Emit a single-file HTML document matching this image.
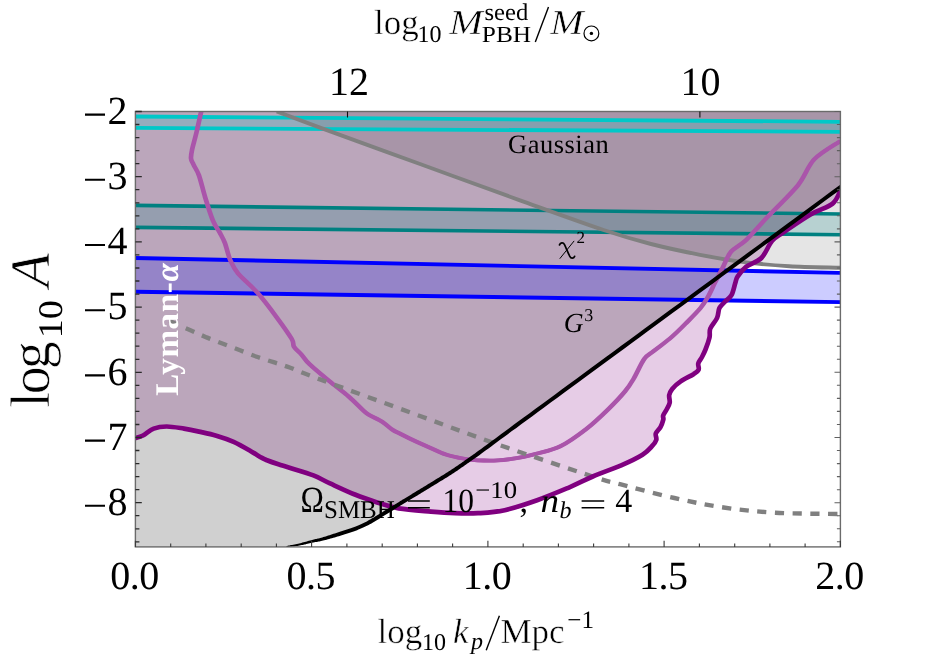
<!DOCTYPE html>
<html><head><meta charset="utf-8"><title>plot</title>
<style>html,body{margin:0;padding:0;background:#fff;}svg{display:block;will-change:transform;}text{text-rendering:geometricPrecision;}</style>
</head><body>
<svg width="927" height="659" viewBox="0 0 927 659">
<defs><clipPath id="c"><rect x="135.4" y="111.5" width="705.0" height="435.4"/></clipPath></defs>
<rect width="927" height="659" fill="#fff"/>
<g clip-path="url(#c)">
<path d="M135.4,438.1 C136.7,437.7 139.9,437.1 143.0,435.5 C146.1,433.9 149.8,430.1 153.7,428.6 C157.6,427.1 161.6,426.5 166.7,426.5 C171.8,426.5 178.6,427.8 184.0,428.6 C189.4,429.5 193.6,430.4 199.0,431.6 C204.4,432.8 210.5,434.0 216.3,435.7 C222.1,437.4 227.8,439.3 233.6,441.9 C239.3,444.5 246.1,448.5 250.8,451.2 C255.5,453.9 259.3,456.4 262.0,457.9 C264.7,459.4 264.3,459.2 267.0,460.3 C269.7,461.4 274.3,463.0 278.4,464.3 C282.5,465.6 286.0,466.5 291.8,468.4 C297.6,470.2 307.0,472.9 313.4,475.4 C319.8,477.9 323.0,480.2 330.0,483.4 C337.0,486.6 347.6,491.6 355.5,494.8 C363.4,498.0 369.9,500.1 377.1,502.4 C384.3,504.7 389.7,506.9 398.7,508.4 C407.7,509.9 421.6,510.8 431.0,511.6 C440.4,512.4 447.2,512.9 455.0,513.2 C462.8,513.5 469.7,513.7 478.0,513.2 C486.3,512.7 494.8,512.4 504.7,510.2 C514.5,508.0 526.3,504.0 537.1,500.2 C547.9,496.4 560.1,491.2 569.4,487.3 C578.7,483.4 584.2,480.2 592.8,476.5 C601.4,472.8 612.9,468.9 621.2,465.3 C629.5,461.7 637.4,457.9 642.5,454.7 C647.6,451.5 649.7,448.7 652.0,446.2 C654.3,443.7 655.7,441.9 656.3,439.8 C656.9,437.7 655.1,435.6 655.8,433.5 C656.5,431.4 659.2,429.4 660.5,427.1 C661.8,424.8 662.8,421.6 663.3,419.7 C663.8,417.8 662.6,417.2 663.2,415.4 C663.8,413.6 665.8,411.1 666.9,409.0 C668.0,406.9 669.3,405.0 669.7,402.7 C670.1,400.4 668.8,397.5 669.2,395.2 C669.6,392.9 670.3,391.2 672.2,388.9 C674.1,386.6 677.2,383.8 680.7,381.4 C684.2,378.9 690.5,376.1 693.5,374.2 C696.5,372.2 697.8,371.5 698.6,369.7 C699.4,367.9 697.7,365.5 698.3,363.4 C698.9,361.3 700.8,359.3 702.0,357.0 C703.2,354.7 704.2,352.7 705.5,349.5 C706.8,346.3 708.7,341.1 709.5,337.6 C710.3,334.1 709.0,331.8 710.3,328.5 C711.6,325.2 715.6,321.3 717.1,317.9 C718.6,314.5 718.1,310.8 719.4,308.1 C720.7,305.5 722.7,304.1 724.7,302.0 C726.7,299.9 729.7,298.4 731.5,295.2 C733.3,292.0 734.3,286.1 735.3,283.0 C736.3,279.9 735.9,279.1 737.7,276.4 C739.5,273.7 742.3,269.8 746.3,266.7 C750.2,263.6 757.1,262.3 761.4,258.0 C765.7,253.7 768.4,245.1 772.2,240.8 C776.0,236.5 777.5,236.4 784.0,232.0 C790.5,227.6 802.9,219.0 811.0,214.3 C819.1,209.6 827.7,207.6 832.6,203.6 C837.5,199.6 839.1,192.8 840.4,190.6 L840.4,111.5 L135.4,111.5 Z" fill="rgba(128,0,128,0.2)"/>
<path d="M286.5,546.6 C288.6,546.2 295.1,545.4 299.4,544.5 C303.7,543.6 308.5,542.2 312.4,541.3 C316.3,540.4 318.4,540.2 322.7,539.0 C327.0,537.8 332.7,536.1 338.3,534.3 C343.9,532.5 351.1,530.4 356.4,528.3 C361.7,526.2 365.2,524.5 370.0,521.9 C374.8,519.3 380.0,515.8 385.0,512.8 C390.0,509.7 395.0,506.7 400.0,503.6 C405.0,500.6 409.6,497.8 415.0,494.5 C420.4,491.2 426.4,487.6 432.2,484.0 C438.0,480.4 444.5,476.5 450.0,473.0 C455.5,469.5 460.0,466.3 465.0,462.8 C470.0,459.3 470.8,458.9 480.0,452.2 C489.2,445.5 500.0,437.4 520.0,422.7 C540.0,408.0 570.0,385.9 600.0,363.9 C630.0,341.8 659.9,319.9 700.0,290.4 C740.1,260.9 817.0,204.3 840.4,187.1 L840.4,111.5 L135.4,111.5 L135.4,546.9 Z" fill="rgba(0,0,0,0.185)"/>
<path d="M276.7,111.5 C283.9,114.2 296.1,118.8 320.0,127.6 C343.9,136.3 386.7,151.9 420.0,164.0 C453.3,176.1 489.4,189.3 520.0,200.3 C550.6,211.3 581.8,222.7 603.6,230.0 C625.4,237.3 634.9,239.9 651.0,244.0 C667.1,248.1 684.1,251.7 700.0,254.8 C715.9,257.9 731.4,260.5 746.3,262.4 C761.2,264.3 773.7,265.3 789.4,266.2 C805.1,267.1 831.9,267.5 840.4,267.8 L840.4,111.5 Z" fill="rgba(0,0,0,0.10)"/>
<path d="M135.4,116.5 L840.4,121.8 L840.4,131.9 L135.4,127.9 Z" fill="rgba(0,200,200,0.2)"/>
<path d="M135.4,205.4 L840.4,214.0 L840.4,234.7 L135.4,227.4 Z" fill="rgba(0,128,128,0.2)"/>
<path d="M135.4,258.0 L840.4,272.9 L840.4,302.1 L135.4,291.8 Z" fill="rgba(0,0,255,0.2)"/>
<path d="M135.4,116.5 L840.4,121.8" stroke="#00c8c8" stroke-width="3.8" fill="none"/>
<path d="M135.4,127.9 L840.4,131.9" stroke="#00c8c8" stroke-width="3.8" fill="none"/>
<path d="M135.4,205.4 L840.4,214.0" stroke="#008080" stroke-width="3.6" fill="none"/>
<path d="M135.4,227.4 L840.4,234.7" stroke="#008080" stroke-width="3.6" fill="none"/>
<path d="M135.4,258.0 L840.4,272.9" stroke="#0000ff" stroke-width="3.9" fill="none"/>
<path d="M135.4,291.8 L840.4,302.1" stroke="#0000ff" stroke-width="3.9" fill="none"/>
<path d="M276.7,111.5 C283.9,114.2 296.1,118.8 320.0,127.6 C343.9,136.3 386.7,151.9 420.0,164.0 C453.3,176.1 489.4,189.3 520.0,200.3 C550.6,211.3 581.8,222.7 603.6,230.0 C625.4,237.3 634.9,239.9 651.0,244.0 C667.1,248.1 684.1,251.7 700.0,254.8 C715.9,257.9 731.4,260.5 746.3,262.4 C761.2,264.3 773.7,265.3 789.4,266.2 C805.1,267.1 831.9,267.5 840.4,267.8" stroke="#808080" stroke-width="3.9" fill="none"/>
<g stroke="#aa55aa" stroke-width="3.8" fill="none" stroke-linejoin="round"><path transform="translate(-0.45,0)" d="M201.2,111.5 C200.4,115.0 198.0,126.1 196.5,132.4 C195.0,138.8 193.0,145.3 192.1,149.6 C191.2,153.9 190.8,155.8 191.0,158.3 C191.2,160.8 192.3,161.8 193.6,164.7 C194.9,167.6 197.1,170.1 199.0,175.5 C200.9,180.9 202.8,189.5 205.1,197.1 C207.4,204.7 210.5,214.8 213.0,220.8 C215.5,226.8 218.0,229.3 220.0,233.0 C222.0,236.7 223.2,238.5 224.9,243.0 C226.6,247.5 228.1,255.2 230.3,260.2 C232.5,265.2 233.4,267.8 237.9,273.2 C242.4,278.6 250.8,285.2 257.3,292.6 C263.8,300.0 271.0,309.6 276.7,317.3 C282.4,325.0 288.8,334.0 291.7,338.9 C294.6,343.8 292.4,344.2 294.0,346.8 C295.6,349.4 299.0,351.8 301.6,354.7 C304.2,357.6 304.9,359.8 309.5,364.2 C314.1,368.6 322.6,375.6 329.2,381.0 C335.8,386.4 343.3,391.9 348.9,396.7 C354.5,401.5 359.4,406.8 362.7,409.8 C366.0,412.8 365.3,412.7 368.6,414.7 C371.9,416.7 378.4,419.4 382.4,421.9 C386.3,424.4 389.3,427.7 392.3,429.7 C395.3,431.7 396.2,431.8 400.2,433.8 C404.1,435.8 411.0,439.3 416.0,441.6 C421.0,443.9 425.0,445.6 430.0,447.7 C435.0,449.8 440.9,452.8 445.9,454.5 C450.9,456.2 455.9,457.1 460.2,458.0 C464.5,458.9 467.8,459.4 471.8,459.8 C475.8,460.2 479.7,460.4 484.0,460.5 C488.3,460.6 493.4,460.6 497.7,460.4 C502.0,460.2 505.7,459.8 510.0,459.2 C514.3,458.6 519.3,457.7 523.6,456.8 C527.9,455.9 529.9,455.6 536.0,453.9 C542.1,452.1 552.0,450.4 560.4,446.3 C568.8,442.2 578.4,435.1 586.3,429.0 C594.2,422.9 601.4,415.9 607.9,409.6 C614.4,403.3 620.8,396.5 625.1,391.3 C629.4,386.1 630.5,384.0 633.7,378.6 C636.9,373.2 641.0,363.4 644.3,358.9 C647.6,354.3 649.1,354.7 653.4,351.3 C657.7,347.9 664.8,342.9 670.1,338.4 C675.4,333.8 680.2,329.1 685.2,324.0 C690.2,318.9 696.6,312.7 700.4,308.1 C704.2,303.6 705.6,300.9 708.0,296.7 C710.4,292.5 712.4,287.8 714.8,283.0 C717.2,278.2 719.9,273.0 722.6,267.8 C725.3,262.6 727.2,256.3 731.2,251.6 C735.2,246.9 740.2,245.7 746.3,239.8 C752.4,234.0 759.3,225.6 767.9,216.5 C776.5,207.4 790.3,194.7 798.0,185.2 C805.7,175.7 807.2,166.7 814.3,159.3 C821.4,151.9 836.0,144.1 840.4,141.0"/><path transform="translate(0.45,0)" d="M201.2,111.5 C200.4,115.0 198.0,126.1 196.5,132.4 C195.0,138.8 193.0,145.3 192.1,149.6 C191.2,153.9 190.8,155.8 191.0,158.3 C191.2,160.8 192.3,161.8 193.6,164.7 C194.9,167.6 197.1,170.1 199.0,175.5 C200.9,180.9 202.8,189.5 205.1,197.1 C207.4,204.7 210.5,214.8 213.0,220.8 C215.5,226.8 218.0,229.3 220.0,233.0 C222.0,236.7 223.2,238.5 224.9,243.0 C226.6,247.5 228.1,255.2 230.3,260.2 C232.5,265.2 233.4,267.8 237.9,273.2 C242.4,278.6 250.8,285.2 257.3,292.6 C263.8,300.0 271.0,309.6 276.7,317.3 C282.4,325.0 288.8,334.0 291.7,338.9 C294.6,343.8 292.4,344.2 294.0,346.8 C295.6,349.4 299.0,351.8 301.6,354.7 C304.2,357.6 304.9,359.8 309.5,364.2 C314.1,368.6 322.6,375.6 329.2,381.0 C335.8,386.4 343.3,391.9 348.9,396.7 C354.5,401.5 359.4,406.8 362.7,409.8 C366.0,412.8 365.3,412.7 368.6,414.7 C371.9,416.7 378.4,419.4 382.4,421.9 C386.3,424.4 389.3,427.7 392.3,429.7 C395.3,431.7 396.2,431.8 400.2,433.8 C404.1,435.8 411.0,439.3 416.0,441.6 C421.0,443.9 425.0,445.6 430.0,447.7 C435.0,449.8 440.9,452.8 445.9,454.5 C450.9,456.2 455.9,457.1 460.2,458.0 C464.5,458.9 467.8,459.4 471.8,459.8 C475.8,460.2 479.7,460.4 484.0,460.5 C488.3,460.6 493.4,460.6 497.7,460.4 C502.0,460.2 505.7,459.8 510.0,459.2 C514.3,458.6 519.3,457.7 523.6,456.8 C527.9,455.9 529.9,455.6 536.0,453.9 C542.1,452.1 552.0,450.4 560.4,446.3 C568.8,442.2 578.4,435.1 586.3,429.0 C594.2,422.9 601.4,415.9 607.9,409.6 C614.4,403.3 620.8,396.5 625.1,391.3 C629.4,386.1 630.5,384.0 633.7,378.6 C636.9,373.2 641.0,363.4 644.3,358.9 C647.6,354.3 649.1,354.7 653.4,351.3 C657.7,347.9 664.8,342.9 670.1,338.4 C675.4,333.8 680.2,329.1 685.2,324.0 C690.2,318.9 696.6,312.7 700.4,308.1 C704.2,303.6 705.6,300.9 708.0,296.7 C710.4,292.5 712.4,287.8 714.8,283.0 C717.2,278.2 719.9,273.0 722.6,267.8 C725.3,262.6 727.2,256.3 731.2,251.6 C735.2,246.9 740.2,245.7 746.3,239.8 C752.4,234.0 759.3,225.6 767.9,216.5 C776.5,207.4 790.3,194.7 798.0,185.2 C805.7,175.7 807.2,166.7 814.3,159.3 C821.4,151.9 836.0,144.1 840.4,141.0"/></g>
<path d="M169.6,320.9 C173.1,322.5 184.2,327.6 190.4,330.3 C196.6,333.1 201.2,335.1 206.6,337.4 C212.0,339.6 217.4,341.6 223.0,343.8 C228.6,346.0 234.4,348.1 240.0,350.3 C245.6,352.5 251.2,354.8 256.8,356.8 C262.4,358.8 268.0,360.4 273.5,362.2 C279.0,364.0 281.9,364.6 289.7,367.5 C297.4,370.4 298.3,371.3 320.0,379.4 C341.7,387.5 390.0,405.0 420.0,416.0 C450.0,427.0 471.2,435.1 500.0,445.2 C528.8,455.3 572.8,470.0 592.8,476.5 C612.8,483.0 606.4,480.6 620.0,484.2 C633.6,487.8 657.1,494.1 674.4,498.0 C691.7,501.9 706.8,505.1 723.6,507.5 C740.4,509.9 755.8,511.6 775.3,512.7 C794.8,513.8 829.5,513.8 840.4,514.0" stroke="#808080" stroke-width="4.4" fill="none" stroke-dasharray="9.2 8.5"/>
<path d="M135.4,438.1 C136.7,437.7 139.9,437.1 143.0,435.5 C146.1,433.9 149.8,430.1 153.7,428.6 C157.6,427.1 161.6,426.5 166.7,426.5 C171.8,426.5 178.6,427.8 184.0,428.6 C189.4,429.5 193.6,430.4 199.0,431.6 C204.4,432.8 210.5,434.0 216.3,435.7 C222.1,437.4 227.8,439.3 233.6,441.9 C239.3,444.5 246.1,448.5 250.8,451.2 C255.5,453.9 259.3,456.4 262.0,457.9 C264.7,459.4 264.3,459.2 267.0,460.3 C269.7,461.4 274.3,463.0 278.4,464.3 C282.5,465.6 286.0,466.5 291.8,468.4 C297.6,470.2 307.0,472.9 313.4,475.4 C319.8,477.9 323.0,480.2 330.0,483.4 C337.0,486.6 347.6,491.6 355.5,494.8 C363.4,498.0 369.9,500.1 377.1,502.4 C384.3,504.7 389.7,506.9 398.7,508.4 C407.7,509.9 421.6,510.8 431.0,511.6 C440.4,512.4 447.2,512.9 455.0,513.2 C462.8,513.5 469.7,513.7 478.0,513.2 C486.3,512.7 494.8,512.4 504.7,510.2 C514.5,508.0 526.3,504.0 537.1,500.2 C547.9,496.4 560.1,491.2 569.4,487.3 C578.7,483.4 584.2,480.2 592.8,476.5 C601.4,472.8 612.9,468.9 621.2,465.3 C629.5,461.7 637.4,457.9 642.5,454.7 C647.6,451.5 649.7,448.7 652.0,446.2 C654.3,443.7 655.7,441.9 656.3,439.8 C656.9,437.7 655.1,435.6 655.8,433.5 C656.5,431.4 659.2,429.4 660.5,427.1 C661.8,424.8 662.8,421.6 663.3,419.7 C663.8,417.8 662.6,417.2 663.2,415.4 C663.8,413.6 665.8,411.1 666.9,409.0 C668.0,406.9 669.3,405.0 669.7,402.7 C670.1,400.4 668.8,397.5 669.2,395.2 C669.6,392.9 670.3,391.2 672.2,388.9 C674.1,386.6 677.2,383.8 680.7,381.4 C684.2,378.9 690.5,376.1 693.5,374.2 C696.5,372.2 697.8,371.5 698.6,369.7 C699.4,367.9 697.7,365.5 698.3,363.4 C698.9,361.3 700.8,359.3 702.0,357.0 C703.2,354.7 704.2,352.7 705.5,349.5 C706.8,346.3 708.7,341.1 709.5,337.6 C710.3,334.1 709.0,331.8 710.3,328.5 C711.6,325.2 715.6,321.3 717.1,317.9 C718.6,314.5 718.1,310.8 719.4,308.1 C720.7,305.5 722.7,304.1 724.7,302.0 C726.7,299.9 729.7,298.4 731.5,295.2 C733.3,292.0 734.3,286.1 735.3,283.0 C736.3,279.9 735.9,279.1 737.7,276.4 C739.5,273.7 742.3,269.8 746.3,266.7 C750.2,263.6 757.1,262.3 761.4,258.0 C765.7,253.7 768.4,245.1 772.2,240.8 C776.0,236.5 777.5,236.4 784.0,232.0 C790.5,227.6 802.9,219.0 811.0,214.3 C819.1,209.6 827.7,207.6 832.6,203.6 C837.5,199.6 839.1,192.8 840.4,190.6" stroke="#800080" stroke-width="4.7" fill="none" stroke-linejoin="round"/>
<path d="M286.6,547.2 L287.2,547.1 L288.0,547.1 L288.9,547.0 L290.0,546.8 L291.1,546.7 L292.3,546.6 L293.5,546.4 L294.8,546.3 L296.0,546.1 L297.3,545.9 L298.5,545.7 L299.6,545.5 L300.7,545.3 L301.8,545.1 L303.0,544.9 L304.1,544.6 L305.2,544.4 L306.4,544.1 L307.5,543.8 L308.6,543.6 L309.7,543.3 L310.7,543.1 L311.7,542.9 L312.7,542.6 L313.6,542.5 L314.5,542.3 L315.3,542.1 L316.1,542.0 L316.9,541.9 L317.7,541.7 L318.5,541.6 L319.3,541.4 L320.2,541.2 L321.1,541.0 L322.1,540.8 L323.1,540.6 L324.2,540.3 L325.4,540.0 L326.6,539.7 L327.9,539.3 L329.2,539.0 L330.5,538.6 L331.9,538.2 L333.3,537.8 L334.7,537.4 L336.1,537.0 L337.5,536.6 L338.9,536.2 L340.3,535.7 L341.8,535.3 L343.4,534.8 L344.9,534.3 L346.5,533.8 L348.1,533.3 L349.7,532.8 L351.2,532.3 L352.8,531.7 L354.3,531.2 L355.7,530.7 L357.1,530.2 L358.4,529.6 L359.7,529.1 L360.9,528.6 L362.0,528.1 L363.2,527.6 L364.3,527.1 L365.3,526.6 L366.4,526.0 L367.5,525.5 L368.6,524.9 L369.8,524.3 L371.0,523.7 L372.2,523.0 L373.4,522.3 L374.7,521.5 L375.9,520.8 L377.2,520.0 L378.5,519.2 L379.7,518.4 L381.0,517.6 L382.3,516.8 L383.5,516.1 L384.8,515.3 L386.0,514.5 L387.3,513.7 L388.5,513.0 L389.8,512.2 L391.0,511.4 L392.3,510.7 L393.5,509.9 L394.8,509.1 L396.0,508.4 L397.3,507.6 L398.5,506.8 L399.8,506.1 L401.0,505.3 L402.3,504.6 L403.5,503.8 L404.7,503.1 L406.0,502.3 L407.2,501.6 L408.4,500.8 L409.6,500.1 L410.9,499.3 L412.1,498.6 L413.4,497.8 L414.7,497.0 L416.0,496.2 L417.4,495.4 L418.8,494.5 L420.2,493.7 L421.6,492.8 L423.0,492.0 L424.5,491.1 L425.9,490.2 L427.4,489.3 L428.8,488.4 L430.3,487.5 L431.8,486.6 L433.2,485.7 L434.7,484.8 L436.2,483.9 L437.7,483.0 L439.2,482.0 L440.8,481.1 L442.3,480.2 L443.8,479.3 L445.3,478.3 L446.8,477.4 L448.3,476.5 L449.7,475.6 L451.1,474.7 L452.4,473.8 L453.8,472.9 L455.1,472.1 L456.3,471.2 L457.6,470.4 L458.8,469.5 L460.0,468.7 L461.2,467.8 L462.5,467.0 L463.7,466.2 L464.9,465.3 L466.1,464.4 L467.3,463.6 L468.3,462.9 L469.3,462.3 L470.2,461.6 L471.1,461.0 L472.1,460.3 L473.1,459.6 L474.3,458.8 L475.7,457.8 L477.2,456.7 L479.0,455.4 L481.2,453.8 L483.5,452.1 L485.9,450.3 L488.5,448.5 L491.2,446.5 L494.1,444.3 L497.1,442.1 L500.4,439.6 L504.0,437.0 L507.8,434.2 L511.9,431.1 L516.4,427.9 L521.2,424.3 L526.4,420.5 L532.0,416.4 L537.9,412.0 L544.1,407.4 L550.7,402.6 L557.4,397.7 L564.4,392.5 L571.6,387.3 L578.8,381.9 L586.2,376.5 L593.7,371.0 L601.2,365.5 L608.7,360.0 L616.2,354.5 L623.8,348.9 L631.5,343.2 L639.4,337.4 L647.4,331.5 L655.6,325.5 L664.1,319.3 L672.9,312.8 L681.9,306.2 L691.4,299.2 L701.2,292.0 L711.9,284.2 L723.6,275.5 L736.3,266.2 L749.5,256.5 L762.9,246.6 L776.4,236.7 L789.6,227.0 L802.2,217.7 L814.0,209.0 L824.7,201.1 L834.0,194.3 L841.6,188.7 L847.5,184.4 L852.1,181.0 L855.4,178.5 L857.8,176.8 L859.3,175.7 L860.2,175.1 L860.5,174.8 L858.1,171.6 L858.1,171.6 L860.4,174.9 L860.6,174.7 L861.2,174.3 L858.8,171.1 L858.3,171.5 L858.1,171.6 L860.5,174.8 L860.7,174.7 L858.2,171.6 L857.8,171.8 L856.9,172.5 L855.4,173.6 L853.1,175.3 L849.7,177.8 L845.1,181.1 L839.2,185.5 L831.6,191.1 L822.3,197.9 L811.7,205.8 L799.9,214.4 L787.2,223.7 L774.0,233.4 L760.6,243.4 L747.1,253.3 L733.9,263.0 L721.3,272.3 L709.5,280.9 L698.8,288.8 L689.0,296.0 L679.6,302.9 L670.5,309.6 L661.7,316.0 L653.3,322.3 L645.0,328.3 L637.0,334.2 L629.2,340.0 L621.5,345.6 L613.9,351.2 L606.3,356.8 L598.8,362.3 L591.3,367.8 L583.9,373.3 L576.5,378.7 L569.2,384.1 L562.0,389.3 L555.1,394.4 L548.3,399.4 L541.8,404.2 L535.5,408.8 L529.6,413.2 L524.0,417.3 L518.8,421.1 L514.0,424.6 L509.5,427.9 L505.4,431.0 L501.6,433.8 L498.0,436.4 L494.7,438.9 L491.7,441.1 L488.8,443.2 L486.1,445.2 L483.6,447.1 L481.1,448.9 L478.8,450.6 L476.7,452.1 L474.9,453.4 L473.3,454.6 L472.0,455.5 L470.8,456.3 L469.8,457.1 L468.8,457.7 L467.9,458.3 L467.0,459.0 L466.1,459.6 L465.0,460.3 L463.9,461.2 L462.6,462.0 L461.4,462.9 L460.2,463.7 L459.0,464.6 L457.8,465.4 L456.5,466.2 L455.3,467.1 L454.1,467.9 L452.8,468.7 L451.6,469.6 L450.3,470.4 L448.9,471.3 L447.5,472.2 L446.1,473.1 L444.7,474.0 L443.2,474.9 L441.7,475.8 L440.2,476.8 L438.7,477.7 L437.2,478.6 L435.6,479.6 L434.1,480.5 L432.6,481.4 L431.2,482.3 L429.7,483.2 L428.2,484.1 L426.8,485.0 L425.3,485.9 L423.8,486.8 L422.4,487.7 L420.9,488.5 L419.5,489.4 L418.1,490.3 L416.7,491.1 L415.3,492.0 L414.0,492.8 L412.6,493.6 L411.3,494.4 L410.1,495.2 L408.8,495.9 L407.6,496.7 L406.3,497.4 L405.1,498.2 L403.9,498.9 L402.7,499.6 L401.4,500.4 L400.2,501.1 L399.0,501.9 L397.7,502.7 L396.5,503.4 L395.2,504.2 L394.0,505.0 L392.7,505.7 L391.5,506.5 L390.2,507.3 L389.0,508.0 L387.7,508.8 L386.5,509.6 L385.2,510.3 L384.0,511.1 L382.7,511.9 L381.4,512.7 L380.2,513.4 L378.9,514.2 L377.6,515.0 L376.4,515.8 L375.1,516.6 L373.9,517.4 L372.6,518.1 L371.4,518.8 L370.2,519.5 L369.0,520.1 L367.9,520.8 L366.8,521.4 L365.7,521.9 L364.6,522.5 L363.6,523.0 L362.5,523.5 L361.5,524.0 L360.4,524.5 L359.3,525.0 L358.1,525.4 L356.9,525.9 L355.7,526.4 L354.3,526.9 L352.9,527.5 L351.5,528.0 L350.0,528.5 L348.4,529.0 L346.9,529.5 L345.3,530.0 L343.7,530.5 L342.2,531.0 L340.6,531.5 L339.1,531.9 L337.7,532.4 L336.3,532.9 L334.9,533.4 L333.5,533.8 L332.2,534.3 L330.8,534.7 L329.5,535.2 L328.2,535.6 L326.9,536.0 L325.7,536.4 L324.5,536.8 L323.4,537.1 L322.3,537.4 L321.3,537.7 L320.3,538.0 L319.5,538.2 L318.6,538.4 L317.9,538.6 L317.1,538.8 L316.3,538.9 L315.5,539.1 L314.7,539.3 L313.9,539.5 L313.0,539.7 L312.1,540.0 L311.1,540.2 L310.1,540.5 L309.0,540.8 L307.9,541.1 L306.9,541.4 L305.8,541.7 L304.7,542.0 L303.5,542.3 L302.4,542.6 L301.3,542.9 L300.3,543.2 L299.2,543.5 L298.1,543.7 L296.9,544.0 L295.7,544.2 L294.5,544.5 L293.2,544.7 L292.0,544.9 L290.8,545.1 L289.7,545.4 L288.7,545.5 L287.8,545.7 L287.0,545.9 L286.4,546.0 Z" fill="#000"/>
</g>
<rect x="135.4" y="111.5" width="705.0" height="435.4" fill="none" stroke="#6b6b6b" stroke-width="1.4"/>
<path d="M135.4,111.5 h6.4 M135.4,124.5 h4.0 M135.4,137.6 h4.0 M135.4,150.6 h4.0 M135.4,163.7 h4.0 M135.4,176.7 h6.4 M135.4,189.7 h4.0 M135.4,202.8 h4.0 M135.4,215.8 h4.0 M135.4,228.9 h4.0 M135.4,241.9 h6.4 M135.4,254.9 h4.0 M135.4,268.0 h4.0 M135.4,281.0 h4.0 M135.4,294.1 h4.0 M135.4,307.1 h6.4 M135.4,320.1 h4.0 M135.4,333.2 h4.0 M135.4,346.2 h4.0 M135.4,359.3 h4.0 M135.4,372.3 h6.4 M135.4,385.3 h4.0 M135.4,398.4 h4.0 M135.4,411.4 h4.0 M135.4,424.5 h4.0 M135.4,437.5 h6.4 M135.4,450.5 h4.0 M135.4,463.6 h4.0 M135.4,476.6 h4.0 M135.4,489.7 h4.0 M135.4,502.7 h6.4 M135.4,515.7 h4.0 M135.4,528.8 h4.0 M135.4,541.8 h4.0" stroke="#2a2a2a" stroke-width="1.3" fill="none"/>
<path d="M840.4,111.5 h-5.9 M840.4,124.5 h-3.5 M840.4,137.6 h-3.5 M840.4,150.6 h-3.5 M840.4,163.7 h-3.5 M840.4,176.7 h-5.9 M840.4,189.7 h-3.5 M840.4,202.8 h-3.5 M840.4,215.8 h-3.5 M840.4,228.9 h-3.5 M840.4,241.9 h-5.9 M840.4,254.9 h-3.5 M840.4,268.0 h-3.5 M840.4,281.0 h-3.5 M840.4,294.1 h-3.5 M840.4,307.1 h-5.9 M840.4,320.1 h-3.5 M840.4,333.2 h-3.5 M840.4,346.2 h-3.5 M840.4,359.3 h-3.5 M840.4,372.3 h-5.9 M840.4,385.3 h-3.5 M840.4,398.4 h-3.5 M840.4,411.4 h-3.5 M840.4,424.5 h-3.5 M840.4,437.5 h-5.9 M840.4,450.5 h-3.5 M840.4,463.6 h-3.5 M840.4,476.6 h-3.5 M840.4,489.7 h-3.5 M840.4,502.7 h-5.9 M840.4,515.7 h-3.5 M840.4,528.8 h-3.5 M840.4,541.8 h-3.5" stroke="#606060" stroke-width="1.1" fill="none"/>
<path d="M135.4,546.9 v-6.2 M170.7,546.9 v-3.4 M205.9,546.9 v-3.4 M241.2,546.9 v-3.4 M276.4,546.9 v-3.4 M311.6,546.9 v-6.2 M346.9,546.9 v-3.4 M382.2,546.9 v-3.4 M417.4,546.9 v-3.4 M452.6,546.9 v-3.4 M487.9,546.9 v-6.2 M523.2,546.9 v-3.4 M558.4,546.9 v-3.4 M593.6,546.9 v-3.4 M628.9,546.9 v-3.4 M664.1,546.9 v-6.2 M699.4,546.9 v-3.4 M734.7,546.9 v-3.4 M769.9,546.9 v-3.4 M805.1,546.9 v-3.4 M840.4,546.9 v-6.2" stroke="#3a3a3a" stroke-width="1.1" fill="none"/>
<path d="M347.5,111.5 v6 M699.9,111.5 v6" stroke="#111" stroke-width="1.1" fill="none"/>
<text x="127.6" y="123.7" font-size="40.0" text-anchor="end" font-family="Liberation Serif, serif" >2</text>
<text x="127.6" y="188.9" font-size="40.0" text-anchor="end" font-family="Liberation Serif, serif" >3</text>
<text x="127.6" y="254.1" font-size="40.0" text-anchor="end" font-family="Liberation Serif, serif" >4</text>
<text x="127.6" y="319.3" font-size="40.0" text-anchor="end" font-family="Liberation Serif, serif" >5</text>
<text x="127.6" y="384.5" font-size="40.0" text-anchor="end" font-family="Liberation Serif, serif" >6</text>
<text x="127.6" y="449.7" font-size="40.0" text-anchor="end" font-family="Liberation Serif, serif" >7</text>
<text x="127.6" y="514.9" font-size="40.0" text-anchor="end" font-family="Liberation Serif, serif" >8</text>
<path d="M85,114.6 H105 M85,179.8 H105 M85,245.0 H105 M85,310.2 H105 M85,375.4 H105 M85,440.6 H105 M85,505.8 H105" stroke="#000" stroke-width="2.1" fill="none"/>
<text x="134.5" y="589.4" font-size="40.0" text-anchor="middle" font-family="Liberation Serif, serif" letter-spacing="-0.5">0.0</text>
<text x="310.8" y="589.4" font-size="40.0" text-anchor="middle" font-family="Liberation Serif, serif" letter-spacing="-0.5">0.5</text>
<text x="487.0" y="589.4" font-size="40.0" text-anchor="middle" font-family="Liberation Serif, serif" letter-spacing="-0.5">1.0</text>
<text x="663.2" y="589.4" font-size="40.0" text-anchor="middle" font-family="Liberation Serif, serif" letter-spacing="-0.5">1.5</text>
<text x="839.5" y="589.4" font-size="40.0" text-anchor="middle" font-family="Liberation Serif, serif" letter-spacing="-0.5">2.0</text>
<text x="349.0" y="95.0" font-size="40.0" text-anchor="middle" font-family="Liberation Serif, serif" >12</text>
<text x="700.6" y="95.0" font-size="40.0" text-anchor="middle" font-family="Liberation Serif, serif" >10</text>
<g font-family="Liberation Serif, serif" fill="#000">
<text x="374" y="33.7" font-size="35" stroke="#fff" stroke-width="0.45">log</text>
<text x="417.5" y="41.5" font-size="24">10</text>
<text x="449.3" y="33.7" font-size="35.0" textLength="33.6" lengthAdjust="spacingAndGlyphs" font-style="italic" stroke="#fff" stroke-width="0.55">M</text>
<text x="484.5" y="20.2" font-size="24.0" textLength="43.8" lengthAdjust="spacingAndGlyphs" >seed</text>
<text x="481.8" y="41.5" font-size="23.0" textLength="49.3" lengthAdjust="spacingAndGlyphs" >PBH</text>
<path d="M535.3,42.1 L548.5,7" stroke="#000" stroke-width="1.4" fill="none"/>
<text x="550.2" y="33.7" font-size="35.0" textLength="33.2" lengthAdjust="spacingAndGlyphs" font-style="italic" stroke="#fff" stroke-width="0.55">M</text>
<circle cx="591.4" cy="33.4" r="7.4" fill="none" stroke="#000" stroke-width="1.2"/><circle cx="591.4" cy="33.4" r="1.7" fill="#000"/>
</g>
<g font-family="Liberation Serif, serif" fill="#000">
<text x="377.5" y="642.7" font-size="35" stroke="#fff" stroke-width="0.45">log</text>
<text x="422" y="649.7" font-size="24">10</text>
<text x="453" y="642.7" font-size="35" font-style="italic" stroke="#fff" stroke-width="0.45">k</text>
<text x="471" y="648.7" font-size="24" font-style="italic">p</text>
<path d="M486.2,650.3 L499.4,615.8" stroke="#000" stroke-width="1.4" fill="none"/>
<text x="500.5" y="642.7" font-size="35" stroke="#fff" stroke-width="0.45">Mpc</text>
<text x="567.3" y="627.9" font-size="25">−1</text>
</g>
<g transform="translate(49.4,405.3) rotate(-90)" font-family="Liberation Serif, serif" fill="#000" stroke="#fff" stroke-width="0.7">
<text x="-2.3" y="0" font-size="56">l</text>
<text x="11" y="0" font-size="56">o</text>
<text x="36.1" y="0" font-size="56">g</text>
<text x="67.0" y="12.2" font-size="34.5" textLength="38.2" lengthAdjust="spacingAndGlyphs" stroke="none">10</text>
<text x="118" y="0" font-size="56" font-style="italic">A</text>
</g>
<text x="508.0" y="152.9" font-size="26.5" text-anchor="start" font-family="Liberation Serif, serif" letter-spacing="0.5">Gaussian</text>
<path d="M559.5,244.9 C560.3,242.6 563.2,241.9 564.5,244.6 C566.2,248.2 568.1,253 569.8,256.4 C571,258.9 573.6,258.7 574.6,256.4" stroke="#000" stroke-width="1.7" fill="none" stroke-linecap="round"/>
<path d="M573.9,241.2 L560,258.4" stroke="#000" stroke-width="1" fill="none" stroke-linecap="round"/>
<text x="576.5" y="243" font-size="17" font-family="Liberation Serif, serif">2</text>
<text x="563.8" y="332" font-size="27.5" font-style="italic" font-family="Liberation Serif, serif">G</text>
<text x="584.3" y="321.2" font-size="18" font-family="Liberation Serif, serif">3</text>
<text transform="translate(178.4,395.7) rotate(-90)" font-size="33" font-weight="bold" letter-spacing="0.7" fill="#fff" font-family="Liberation Serif, serif">Lyman-<tspan font-style="italic">α</tspan></text>
<g font-family="Liberation Serif, serif" fill="#000">
<text x="300.6" y="512.0" font-size="37.0" textLength="23.4" lengthAdjust="spacingAndGlyphs" >Ω</text>
<text x="324.0" y="518.2" font-size="25.5" textLength="70.8" lengthAdjust="spacingAndGlyphs" >SMBH</text>
<path d="M408,501 H429.8 M408,507.7 H429.8 M581.6,501 H604.2 M581.6,507.7 H604.2" stroke="#000" stroke-width="1.45" fill="none"/>
<text x="442.5" y="512.0" font-size="34.0" textLength="31.5" lengthAdjust="spacingAndGlyphs" >10</text>
<text x="475.3" y="498.0" font-size="24.0" textLength="41.8" lengthAdjust="spacingAndGlyphs" >−10</text>
<text x="519.5" y="512" font-size="34">,</text>
<text x="540.6" y="512.0" font-size="34.0" textLength="18.6" lengthAdjust="spacingAndGlyphs" font-style="italic">n</text>
<text x="559.5" y="517.6" font-size="24" font-style="italic">b</text>
<text x="615.3" y="512" font-size="34">4</text>
</g>
</svg>
</body></html>
